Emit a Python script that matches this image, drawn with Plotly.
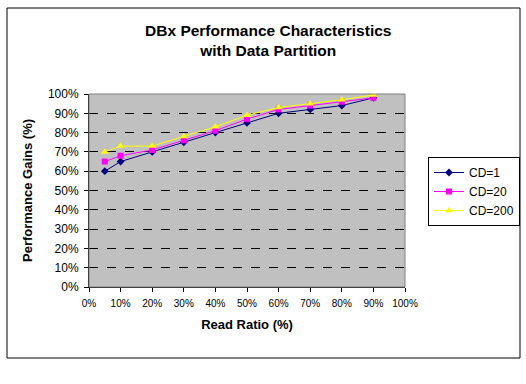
import plotly.graph_objects as go

read_ratio = [5, 10, 20, 30, 40, 50, 60, 70, 80, 90]
cd1 = [60, 65, 70, 75, 80, 85, 90, 92, 94, 98]
cd20 = [65, 68, 71, 76, 81, 87, 92, 94, 96, 98]
cd200 = [70, 73, 73, 78, 83, 89, 93, 95, 97, 99.5]

series = [
    ("CD=1", cd1, "#000080", "diamond", 6),
    ("CD=20", cd20, "#FF00FF", "square", 6),
    ("CD=200", cd200, "#FFFF00", "triangle-up", 7),
]

fig = go.Figure()
for name, vals, color, sym, sz in series:
    fig.add_trace(go.Scatter(
        x=read_ratio, y=vals, name=name, mode="lines+markers",
        line=dict(color=color, width=1),
        marker=dict(symbol=sym, size=sz, color=color),
    ))

font = "Liberation Sans, Arial, sans-serif"
fig.update_layout(
    width=526, height=384,
    margin=dict(l=89, r=121, t=94, b=97, autoexpand=False),
    paper_bgcolor="white",
    plot_bgcolor="#C0C0C0",
    font=dict(family=font, size=10, color="black"),
    title=dict(
        text="<b>DBx Performance Characteristics<br>with Data Partition</b>",
        x=0.51, xanchor="center", y=1 - 36 / 384, yanchor="middle",
        font=dict(size=15.5, family=font, color="black"),
    ),
    xaxis=dict(
        range=[0, 100], tick0=0, dtick=10, ticksuffix="%",
        showgrid=False, zeroline=False,
        showline=True, linecolor="black", linewidth=1,
        ticks="outside", ticklen=4, tickcolor="black",
        tickfont=dict(size=10), ticklabelstandoff=3,
        title=dict(text="<b>Read Ratio (%)</b>", font=dict(size=13), standoff=11),
    ),
    yaxis=dict(
        range=[0, 100], tick0=0, dtick=10, ticksuffix="%",
        showgrid=True, gridcolor="black", griddash="dash", gridwidth=1,
        zeroline=False,
        showline=True, linecolor="black", linewidth=1,
        ticks="outside", ticklen=4, tickcolor="black",
        tickfont=dict(size=12), ticklabelstandoff=3,
        title=dict(text="<b>Performance Gains (%)</b>", font=dict(size=13), standoff=12),
    ),
    legend=dict(
        x=(428 - 89) / 316, y=(287 - 157) / 193, xanchor="left", yanchor="top",
        bgcolor="white", bordercolor="black", borderwidth=1,
        font=dict(size=12), tracegroupgap=0, itemwidth=30,
    ),
    showlegend=True,
    shapes=[
        dict(type="rect", xref="paper", yref="paper", x0=0, x1=1, y0=0, y1=1,
             line=dict(color="#808080", width=1), layer="above"),
        dict(type="rect", xref="paper", yref="paper",
             x0=(7 - 89) / 316, x1=(520 - 89) / 316,
             y0=(287 - 358) / 193, y1=(287 - 8) / 193,
             line=dict(color="black", width=1), layer="below"),
    ],
)

fig.write_html("out.html", config={"displayModeBar": False},
               post_script="document.body.style.margin='0';")
